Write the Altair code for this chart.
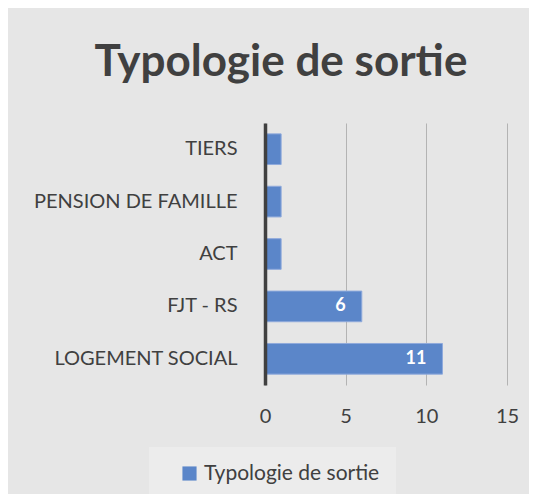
import altair as alt
import pandas as pd

categories = ["TIERS", "PENSION DE FAMILLE", "ACT", "FJT - RS", "LOGEMENT SOCIAL"]
values = [1, 1, 1, 6, 11]
series_name = "Typologie de sortie"
x_ticks = [0, 5, 10, 15]

df = pd.DataFrame({"cat": categories, "value": values, "series": [series_name] * len(categories)})
df["label"] = [str(v) if v > 1 else "" for v in values]

FONT = "Lato"
TXT = "#404040"

base = alt.Chart(df)

bars = base.mark_bar(stroke="#8faadc", strokeWidth=1).encode(
    y=alt.Y("cat:N", sort=categories, title=None,
            scale=alt.Scale(paddingInner=0.415, paddingOuter=0.2075),
            axis=alt.Axis(labelFontSize=20, labelColor=TXT, labelFont=FONT, labelPadding=28,
                          labelLimit=400, ticks=False, domain=True, domainColor="#404040",
                          domainWidth=3.5, grid=False, zindex=2)),
    x=alt.X("value:Q", title=None, scale=alt.Scale(domain=[0, 15], nice=False),
            axis=alt.Axis(values=x_ticks, labelFontSize=20, labelColor=TXT, labelFont=FONT,
                          labelPadding=21, labelFlush=False, ticks=False, domain=False,
                          grid=True, gridColor="#b3b3b3", gridWidth=1)),
    color=alt.Color("series:N", title=None,
                    scale=alt.Scale(domain=[series_name], range=["#5b86c9"]),
                    legend=alt.Legend(orient="none", legendX=-116, legendY=324,
                                      symbolType="square", symbolSize=200, symbolStrokeWidth=0,
                                      labelFontSize=21, labelColor=TXT, labelFont=FONT,
                                      labelLimit=400, fillColor="#ececec", padding=16,
                                      symbolOffset=14, labelOffset=4)),
)

labels = base.mark_text(align="right", baseline="middle", dx=-16, color="white",
                        fontWeight="bold", fontSize=18, font=FONT).encode(
    y=alt.Y("cat:N", sort=categories),
    x=alt.X("value:Q"),
    text="label:N",
)

chart = alt.layer(bars, labels).properties(
    width=242, height=262,
    autosize=alt.AutoSizeParams(type="none"),
    padding={"left": 257, "top": 115, "right": 22, "bottom": 109},
    background="#e6e6e6",
    title=alt.TitleParams(series_name, font=FONT, fontSize=44, fontWeight="bold", color=TXT,
                          anchor="middle", frame="group", baseline="alphabetic",
                          offset=3, dx=-105),
).configure_view(stroke=None)

chart.save("out.html", embed_options={"renderer": "svg", "actions": False})
